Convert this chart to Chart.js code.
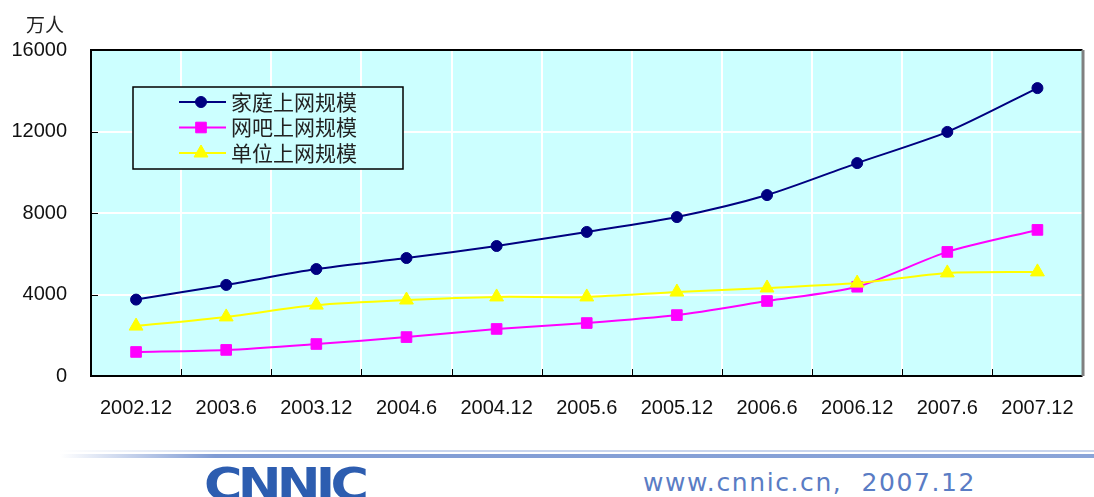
<!DOCTYPE html>
<html lang="zh">
<head>
<meta charset="UTF-8">
<title>上网规模</title>
<script src="https://cdn.jsdelivr.net/npm/chart.js@4/dist/chart.umd.min.js"></script>
<style>
    body { margin: 0; background: #fff; }
    #wrap { position: relative; width: 1094px; height: 497px; overflow: hidden; }
    #grafico { position: absolute; left: 0; top: 0; }
    .unidade { position: absolute; left: 26px; top: 10px; font: 19px "Noto Sans CJK SC"; color: #222; }
    .linha1 { position: absolute; left: 60px; right: 0; top: 450px; height: 2px;
        background: linear-gradient(to right, rgba(200,212,236,0), #c8d4ec 20%, #c8d4ec); }
    .linha2 { position: absolute; left: 60px; right: 0; top: 454px; height: 4px;
        background: linear-gradient(to right, rgba(120,150,210,0), #7f9bd4 15%, #8aa4d8); }
    .logo { position: absolute; left: 204px; top: 459px; font: bold 44px "DejaVu Sans"; color: #2d5db0;
        letter-spacing: -4px; transform: scaleX(1.19); transform-origin: left; }
    .site { position: absolute; left: 643px; top: 468px; font: 25px "DejaVu Sans"; color: #5a7cc4;
        letter-spacing: 1.6px; white-space: pre; }
</style>
</head>
<body>
<div id="wrap">
    <canvas id="grafico" width="1094" height="440"></canvas>
    <div class="unidade">万人</div>
    <div class="linha1"></div>
    <div class="linha2"></div>
    <div class="logo">CNNIC</div>
    <div class="site">www.cnnic.cn,  2007.12</div>
</div>

<script>
    // dados (万人)
    var periodos = ['2002.12', '2003.6', '2003.12', '2004.6', '2004.12', '2005.6', '2005.12', '2006.6', '2006.12', '2007.6', '2007.12'];
    var familia = [3750, 4470, 5250, 5790, 6380, 7070, 7800, 8880, 10450, 11980, 14130];
    var wangba = [1180, 1280, 1570, 1910, 2310, 2600, 2990, 3680, 4380, 6090, 7170];
    var unidade = [2450, 2900, 3480, 3730, 3880, 3880, 4120, 4320, 4560, 5060, 5110];

    var nomes = ['家庭上网规模', '网吧上网规模', '单位上网规模'];
    var cores = ['#000080', '#ff00ff', '#ffff00'];
    var marcadores = ['circle', 'rect', 'triangle'];
    var tamanhos = [5.5, 7.5, 8];

    var ticksY = [0, 4000, 8000, 12000, 16000];

    var fundo = '#ccffff';

    // fundo da área do gráfico
    const pluginFundo = {
        id: 'fundo',
        beforeDraw(chart) {
            const a = chart.chartArea;
            const ctx = chart.ctx;
            ctx.save();
            ctx.fillStyle = fundo;
            ctx.fillRect(a.left, a.top, a.right - a.left, a.bottom - a.top);
            ctx.restore();
        },
        beforeDatasetsDraw(chart) {
            // bordas e marcas internas
            const a = chart.chartArea;
            const ctx = chart.ctx;
            const x = chart.scales.x;
            const y = chart.scales.y;
            ctx.save();
            ctx.strokeStyle = '#000';
            ctx.lineWidth = 1;
            for (let i = 1; i < periodos.length; i++) {
                const px = Math.round((x.getPixelForValue(i - 1) + x.getPixelForValue(i)) / 2) + 0.5;
                ctx.beginPath(); ctx.moveTo(px, a.bottom); ctx.lineTo(px, a.bottom - 7); ctx.stroke();
            }
            ticksY.forEach(function (v) {
                const py = Math.round(y.getPixelForValue(v)) + 0.5;
                ctx.beginPath(); ctx.moveTo(a.left, py); ctx.lineTo(a.left + 7, py); ctx.stroke();
            });
            ctx.lineWidth = 2;
            ctx.beginPath();
            ctx.moveTo(a.right, a.top); ctx.lineTo(a.left, a.top); ctx.lineTo(a.left, a.bottom); ctx.lineTo(a.right, a.bottom);
            ctx.stroke();
            ctx.strokeStyle = '#808080';
            ctx.lineWidth = 3;
            ctx.beginPath(); ctx.moveTo(a.right + 0.5, a.top); ctx.lineTo(a.right + 0.5, a.bottom); ctx.stroke();
            ctx.restore();
        },
        afterDatasetsDraw(chart) {
            // legenda dentro da área
            const a = chart.chartArea;
            const ctx = chart.ctx;
            const bx = a.left + 42, by = a.top + 37, bw = 270, bh = 82;
            ctx.save();
            ctx.fillStyle = fundo;
            ctx.fillRect(bx, by, bw, bh);
            ctx.strokeStyle = '#000';
            ctx.lineWidth = 1.5;
            ctx.strokeRect(bx, by, bw, bh);
            ctx.font = '21px "Noto Sans CJK SC"';
            ctx.textBaseline = 'middle';
            for (let i = 0; i < nomes.length; i++) {
                const ly = by + 15 + i * 25.5;
                ctx.strokeStyle = cores[i];
                ctx.lineWidth = 2;
                ctx.beginPath(); ctx.moveTo(bx + 46, ly); ctx.lineTo(bx + 93, ly); ctx.stroke();
                ctx.fillStyle = cores[i];
                ctx.lineWidth = 1;
                Chart.helpers.drawPoint(ctx, { pointStyle: marcadores[i], radius: tamanhos[i], rotation: 0, borderWidth: 1 }, bx + 68, ly);
                ctx.fillStyle = '#222';
                ctx.fillText(nomes[i], bx + 98, ly);
            }
            ctx.restore();
        }
    };

    const series = [familia, wangba, unidade];

    const grafico = new Chart(document.getElementById('grafico'), {
        type: 'line',
        data: {
            labels: periodos,
            datasets: series.map(function (s, i) {
                return {
                    label: nomes[i],
                    data: s,
                    borderColor: cores[i],
                    backgroundColor: cores[i],
                    borderWidth: 2,
                    pointStyle: marcadores[i],
                    pointRadius: tamanhos[i],
                    pointBorderWidth: 1,
                    tension: 0.25,
                    fill: false
                };
            }).reverse()
        },
        options: {
            responsive: false,
            animation: false,
            layout: { padding: { top: 50, right: 9, left: 0, bottom: 0 } },
            plugins: { legend: { display: false }, tooltip: { enabled: false } },
            scales: {
                x: {
                    offset: true,
                    grid: { offset: true, color: '#ffffff', lineWidth: 2, drawTicks: false },
                    border: { display: false },
                    ticks: { color: '#111', font: { family: 'Liberation Sans', size: 20 }, padding: 20, maxRotation: 0, autoSkip: false },
                    afterFit(scale) { scale.height = 64; }
                },
                y: {
                    min: 0,
                    max: 16000,
                    afterBuildTicks(scale) { scale.ticks = ticksY.map(function (v) { return { value: v }; }); },
                    grid: { color: '#ffffff', lineWidth: 2, drawTicks: false },
                    border: { display: false },
                    ticks: {
                        color: '#111', font: { family: 'Liberation Sans', size: 20 }, padding: 24,
                        callback: function (v) { return String(v); }
                    },
                    afterFit(scale) { scale.width = 91; }
                }
            }
        },
        plugins: [pluginFundo]
    });
</script>
</body>
</html>
